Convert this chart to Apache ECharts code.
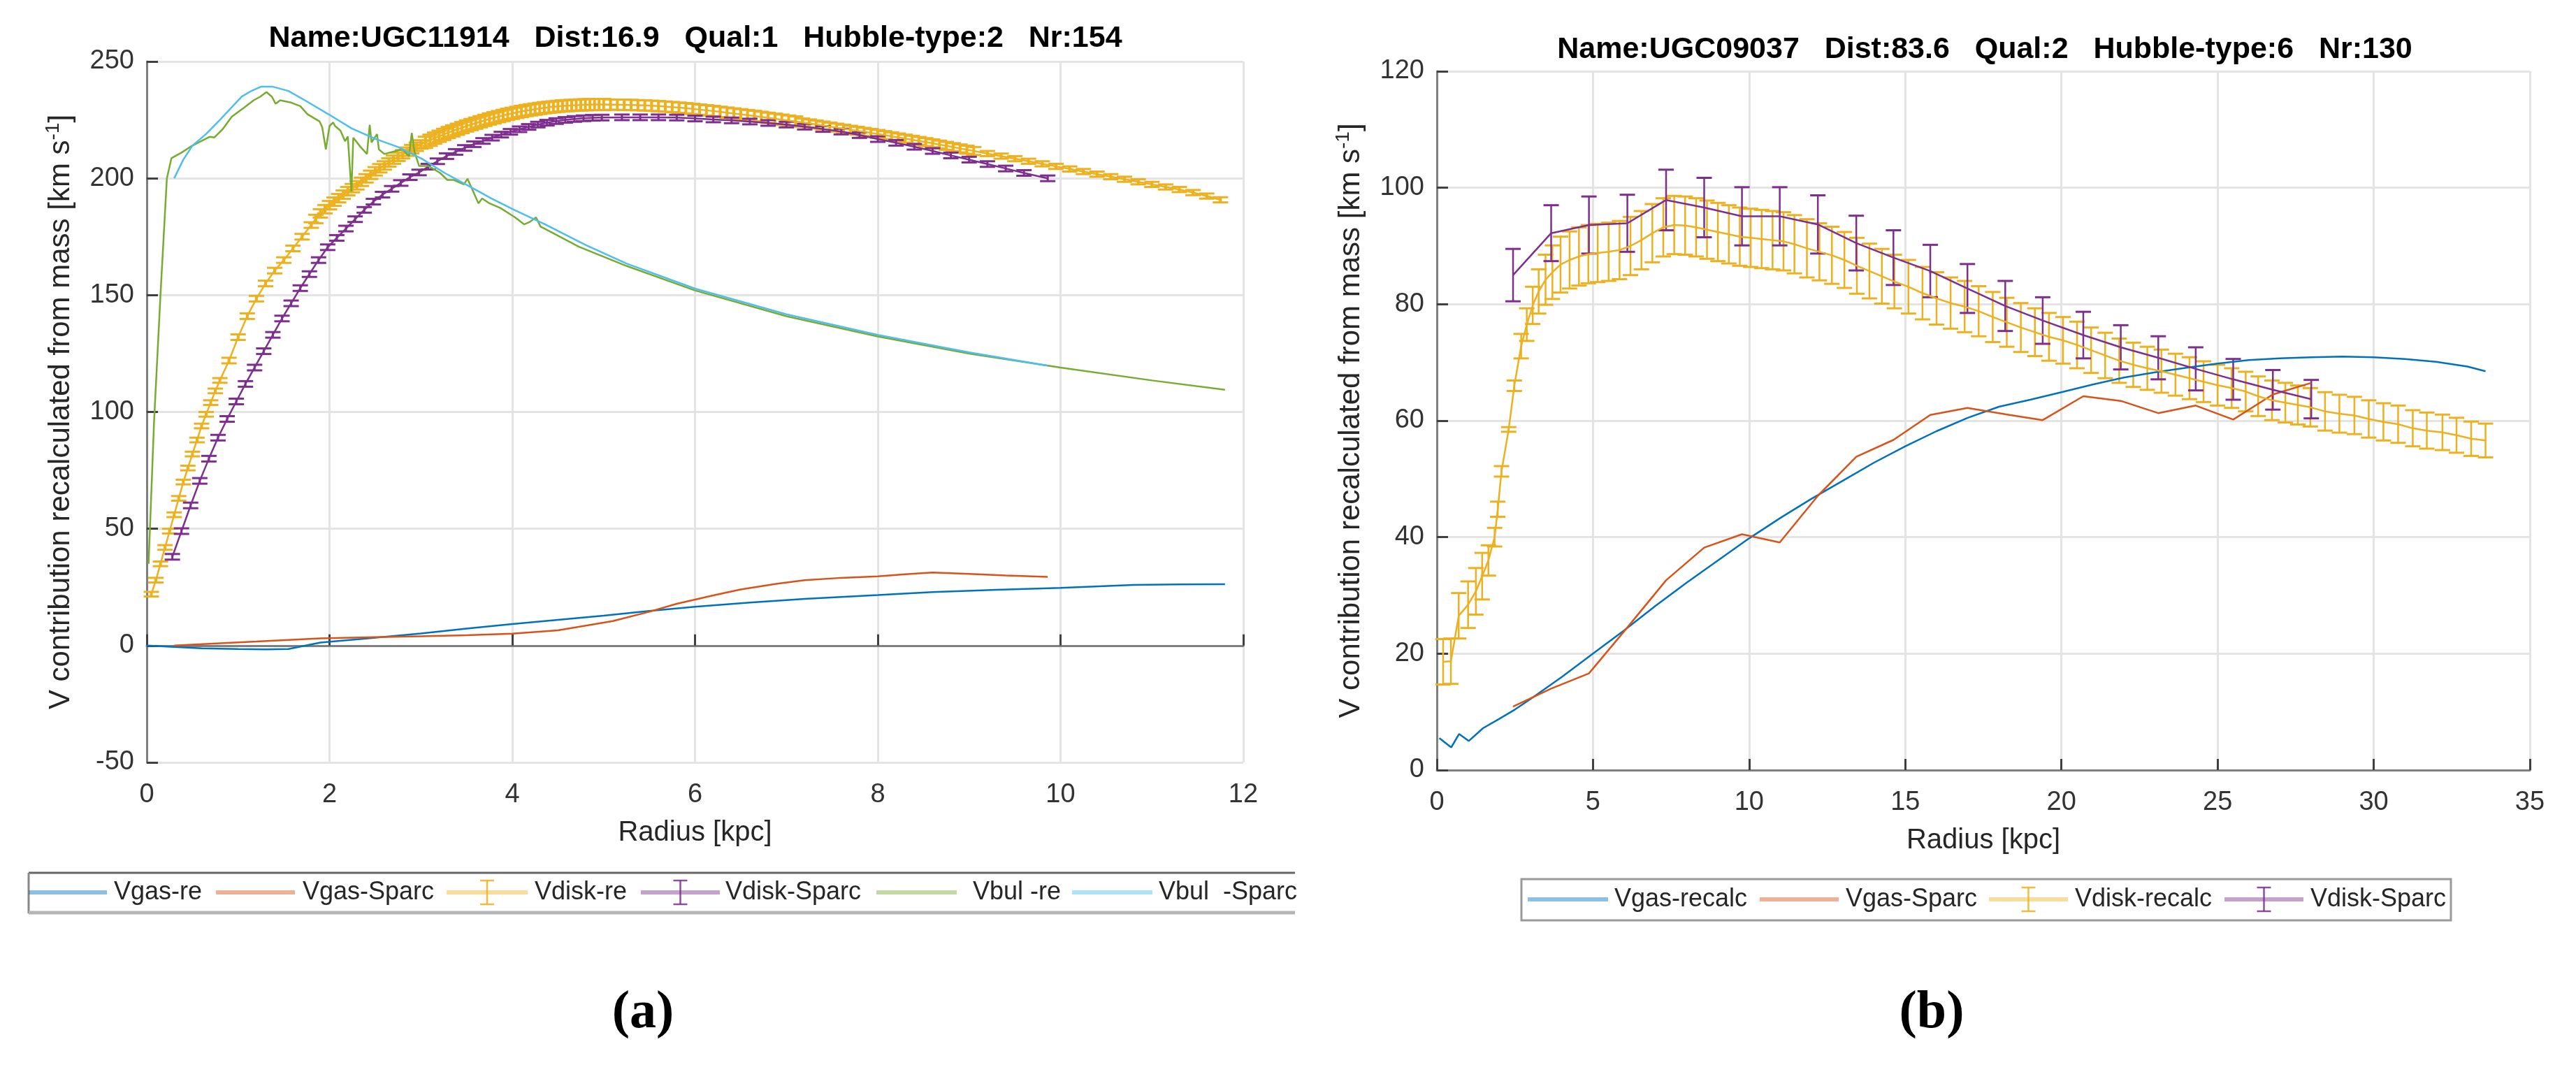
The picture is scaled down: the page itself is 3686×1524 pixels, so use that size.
<!DOCTYPE html>
<html>
<head>
<meta charset="utf-8">
<title>Mass model velocity contributions</title>
<script src="https://cdn.jsdelivr.net/npm/echarts@6.0.0/dist/echarts.min.js"></script>
<style>
  html, body { margin: 0; padding: 0; background: #fff; }
  #chart { width: 3686px; height: 1524px; }
</style>
</head>
<body>
<div id="chart"></div>
<script>
// ---- panel (a): UGC11914 ----
var titleA = 'Name:UGC11914   Dist:16.9   Qual:1   Hubble-type:2   Nr:154';
var namesA = ['Vgas-re', 'Vgas-Sparc', 'Vdisk-re', 'Vdisk-Sparc', 'Vbul -re', 'Vbul  -Sparc'];
var ticksXA = { min: 0, max: 12, step: 2 };
var ticksYA = { min: -50, max: 250, step: 50 };

var gasReR = [0, 0.3, 0.6, 1.0, 1.3, 1.55, 1.9, 2.4, 3.0, 3.5, 4.0, 4.5, 5.0, 5.5, 6.0, 6.6, 7.2, 8.0, 8.6, 9.3, 10.0, 10.8, 11.3, 11.8];
var gasReV = [0, -0.6, -1.2, -1.5, -1.6, -1.5, 1.3, 3.0, 5.2, 7.3, 9.2, 11.0, 12.8, 14.8, 16.6, 18.4, 20.0, 21.6, 22.9, 23.9, 24.7, 26.0, 26.2, 26.3];

var gasSpR = [0.3, 0.8, 1.2, 1.9, 2.5, 3.0, 3.5, 4.0, 4.5, 5.1, 5.5, 5.8, 6.2, 6.5, 6.9, 7.2, 7.6, 8.0, 8.3, 8.6, 9.0, 9.4, 9.86];
var gasSpV = [0, 1.0, 1.75, 3.1, 3.6, 4.0, 4.4, 5.1, 6.5, 10.5, 14.5, 17.9, 21.5, 24.0, 26.5, 28.0, 29.0, 29.6, 30.5, 31.3, 30.7, 30.0, 29.4];

var diskReR = [
  0.05, 0.1, 0.15, 0.2, 0.25, 0.3, 0.35, 0.4, 0.45, 0.5, 0.55, 0.6, 0.65, 0.7, 0.75, 0.8,
  0.9, 1.0, 1.1, 1.2, 1.3, 1.4, 1.5, 1.6, 1.7, 1.8,
  1.85, 1.9, 1.95, 2.0, 2.05, 2.1, 2.15, 2.2, 2.25, 2.3, 2.35, 2.4, 2.45, 2.5, 2.55, 2.6,
  2.65, 2.7, 2.75, 2.8, 2.85, 2.9, 2.95, 3.0,
  3.05, 3.1, 3.15, 3.2, 3.25, 3.3, 3.35, 3.4, 3.45, 3.5, 3.55, 3.6, 3.65, 3.7, 3.75, 3.8, 3.85, 3.9, 3.95, 4.0,
  4.05, 4.1, 4.15, 4.2, 4.25, 4.3, 4.35, 4.4, 4.45, 4.5, 4.55, 4.6, 4.65, 4.7, 4.75, 4.8, 4.85, 4.9, 4.95, 5.0,
  5.075, 5.15, 5.225, 5.3, 5.375, 5.45, 5.525, 5.6, 5.675, 5.75, 5.825, 5.9, 5.975, 6.05,
  6.125, 6.2, 6.275, 6.35, 6.425, 6.5, 6.575, 6.65, 6.725, 6.8, 6.875, 6.95, 7.025, 7.1,
  7.175, 7.25, 7.325, 7.4, 7.475, 7.55, 7.625, 7.7, 7.775, 7.85, 7.925, 8.0, 8.075,
  8.15, 8.225, 8.3, 8.375, 8.45, 8.525, 8.6, 8.675, 8.75, 8.825, 8.9, 8.975, 9.05,
  9.2, 9.35, 9.5, 9.65, 9.8, 9.95, 10.1, 10.25, 10.4, 10.55, 10.7, 10.85, 11.0, 11.15, 11.3, 11.45, 11.6, 11.75];
var diskReV = [
  22, 28, 35, 42, 49, 56, 63, 70, 76, 82, 88, 94, 99, 104, 109, 113.5,
  122, 132, 141, 148.5, 155, 160.5, 165, 170, 175, 180,
  182.6, 185, 186.8, 188.5, 190, 191.5, 193, 194.5, 195.8, 197, 198.5, 200, 201.5, 203, 204.3, 205.5,
  206.8, 208, 209.2, 210.3, 211.4, 212.5, 213.5, 214.5,
  215.4, 216.3, 217.2, 218, 218.8, 219.6, 220.3, 221, 221.7, 222.4, 223, 223.6, 224.2, 224.8, 225.4, 225.9, 226.4, 226.9, 227.4, 227.8,
  228.2, 228.6, 229, 229.3, 229.6, 229.9, 230.2, 230.4, 230.6, 230.8, 231, 231.1, 231.2, 231.3, 231.4, 231.5, 231.55, 231.6, 231.6, 231.6,
  231.55, 231.5, 231.45, 231.4, 231.3, 231.2, 231.05, 230.9, 230.7, 230.5, 230.25, 230.0, 229.7, 229.4,
  229.1, 228.8, 228.45, 228.1, 227.75, 227.4, 227.05, 226.7, 226.3, 225.9, 225.5, 225.1, 224.7, 224.3,
  223.9, 223.5, 223.05, 222.6, 222.15, 221.7, 221.25, 220.8, 220.35, 219.9, 219.45, 219.0, 218.5,
  218.0, 217.5, 217.0, 216.5, 216.0, 215.5, 215.0, 214.45, 213.9, 213.35, 212.8, 212.25, 211.7,
  210.6, 209.5, 208.4, 207.3, 206.2, 205.1, 204.0, 202.9, 201.8, 200.7, 199.6, 198.5, 197.4, 196.3, 195.2, 193.9, 192.4, 190.8];
var diskReE = [
  1, 1, 1, 1, 1, 1, 1, 1, 1, 1, 1, 1, 1, 1, 1, 1,
  1.2, 1.2, 1.2, 1.2, 1.2, 1.2, 1.2, 1.2, 1.2, 1.2,
  1.8, 1.8, 1.8, 1.8, 1.8, 1.8, 1.8, 1.8, 1.8, 1.8, 1.8, 1.8, 1.8, 1.8, 1.8, 1.8,
  1.8, 1.8, 1.8, 1.8, 1.8, 1.8, 1.8, 1.8,
  2.4, 2.4, 2.4, 2.4, 2.4, 2.4, 2.4, 2.4, 2.4, 2.4, 2.4, 2.4, 2.4, 2.4, 2.4, 2.4, 2.4, 2.4, 2.4, 2.4,
  2.4, 2.4, 2.4, 2.4, 2.4, 2.4, 2.4, 2.4, 2.4, 2.4, 2.4, 2.4, 2.4, 2.4, 2.4, 2.4, 2.4, 2.4, 2.4, 2.4,
  2.2, 2.2, 2.2, 2.2, 2.2, 2.2, 2.2, 2.2, 2.2, 2.2, 2.2, 2.2, 2.2, 2.2,
  2.2, 2.2, 2.2, 2.2, 2.2, 2.2, 2.2, 2.2, 2.2, 2.2, 2.2, 2.2, 2.2, 2.2,
  1.7, 1.7, 1.7, 1.7, 1.7, 1.7, 1.7, 1.7, 1.7, 1.7, 1.7, 1.7, 1.7,
  1.7, 1.7, 1.7, 1.7, 1.7, 1.7, 1.7, 1.7, 1.7, 1.7, 1.7, 1.7, 1.7,
  1.1, 1.1, 1.1, 1.1, 1.1, 1.1, 1.1, 1.1, 1.1, 1.1, 1.1, 1.1, 1.1, 1.1, 1.1, 1.1, 1.1, 1.1];

var diskSpR = [0.28, 0.38, 0.48, 0.58, 0.68, 0.78, 0.88, 0.98, 1.08, 1.18, 1.28, 1.38, 1.48, 1.58, 1.68, 1.78, 1.88, 1.98,
  2.08, 2.18, 2.28, 2.38, 2.48, 2.58, 2.68, 2.78, 2.88, 2.98, 3.08, 3.18, 3.28, 3.38, 3.48, 3.58, 3.68, 3.78, 3.88, 3.98,
  4.08, 4.18, 4.28, 4.38, 4.48, 4.58, 4.68, 4.78, 4.88, 4.98,
  5.2, 5.4, 5.6, 5.8, 6.0, 6.2, 6.4, 6.6, 6.8, 7.0, 7.2, 7.4, 7.6, 7.8, 8.0, 8.2, 8.4, 8.6, 8.8, 9.0, 9.2, 9.4, 9.6, 9.86];
var diskSpV = [38, 49, 60, 70.5, 80, 89, 97, 104.5, 112, 119, 126, 133, 140, 146.5, 153, 159, 165, 170.5,
  174.5, 178.5, 182.5, 186.5, 190, 193, 195.5, 198, 200.5, 202.5, 205, 207.3, 209.5, 211.3, 213, 214.6, 216, 217.4, 218.7, 219.9,
  221, 222, 223, 223.8, 224.5, 225, 225.4, 225.7, 225.9, 226,
  226.1, 226.1, 226.1, 226, 225.6, 225.2, 224.8, 224.3, 223.7, 223, 222.1, 221.1, 220, 218.5, 216.8, 215.2, 213.5, 211.7, 209.8, 208, 206.1, 204.2, 202.3, 200];
var diskSpE = [1.2, 1.2, 1.2, 1.2, 1.2, 1.2, 1.2, 1.2, 1.2, 1.2, 1.2, 1.2, 1.2, 1.2, 1.2, 1.2, 1.2, 1.2,
  1.2, 1.2, 1.2, 1.2, 1.2, 1.2, 1.2, 1.2, 1.2, 1.2, 1.2, 1.2, 1.2, 1.2, 1.2, 1.2, 1.2, 1.2, 1.2, 1.2,
  1.2, 1.2, 1.2, 1.2, 1.2, 1.2, 1.2, 1.2, 1.2, 1.2,
  1.2, 1.2, 1.2, 1.2, 1.2, 1.2, 1.2, 1.2, 1.2, 1.2, 1.2, 1.2, 1.2, 1.2, 1.2, 1.2, 1.2, 1.2, 1.2, 1.2, 1.2, 1.2, 1.2, 1.2];

var bulReR = [0.02, 0.08, 0.15, 0.22, 0.27, 0.38, 0.49, 0.6, 0.69, 0.74, 0.83, 0.93, 1.07, 1.17, 1.24, 1.31, 1.37, 1.41, 1.46, 1.58,
  1.68, 1.76, 1.89, 1.92, 1.96, 2.0, 2.04, 2.06, 2.12, 2.17, 2.2, 2.24, 2.26, 2.34, 2.41, 2.44, 2.46, 2.52, 2.54, 2.6,
  2.7, 2.8, 2.87, 2.9, 2.93, 2.98, 3.08, 3.21, 3.29, 3.36, 3.47, 3.51, 3.55, 3.63, 3.67, 3.75, 3.87, 4.03, 4.13, 4.19,
  4.26, 4.31, 4.36, 4.73, 5.25, 6.0, 7.0, 8.0, 9.0, 10.0, 11.0, 11.8];
var bulReV = [35, 96, 150, 200, 208.6, 211, 213.8, 216, 217.8, 217.5, 221, 226.4, 230.4, 233.4, 234.9, 236.9, 234.9, 231.9, 233.4, 232.4,
  230.9, 227.4, 224.4, 221.9, 212.4, 222.4, 223.9, 222.4, 220.4, 215.9, 217.9, 194.4, 217.4, 213.4, 210.4, 222.9, 215.4, 218.9, 212.4, 210.4,
  211.4, 212.4, 209.4, 219.4, 211.4, 205.3, 205.3, 202.3, 199.3, 199.3, 197.4, 199.8, 196.3, 189.3, 191.4, 189.3, 187.3, 183.3, 180.3, 181.3,
  183.3, 179.3, 178.3, 170.7, 162.5, 152, 141, 132.3, 125, 119, 113.5, 109.5];

var bulSpR = [0.3, 0.4, 0.5, 0.65, 0.8, 0.92, 1.04, 1.15, 1.25, 1.38, 1.55, 1.73, 1.99, 2.24, 2.5, 2.75, 3.01, 3.26, 3.52, 3.77,
  4.03, 4.36, 4.8, 5.25, 6.0, 7.0, 8.0, 9.0, 9.86];
var bulSpV = [200, 208, 214, 219, 225, 230, 235, 237.5, 239.2, 239.2, 237.4, 233.4, 227.4, 221.4, 216.9, 213.4, 208.4, 202.3, 196.8, 191.4,
  186.3, 180.3, 171.5, 163.5, 152.8, 141.8, 133, 125.5, 119.8];

// ---- panel (b): UGC09037 ----
var titleB = 'Name:UGC09037   Dist:83.6   Qual:2   Hubble-type:6   Nr:130';
var namesB = ['Vgas-recalc', 'Vgas-Sparc', 'Vdisk-recalc', 'Vdisk-Sparc'];
var ticksXB = { min: 0, max: 35, step: 5 };
var ticksYB = { min: 0, max: 120, step: 20 };

var gasRecR = [0.08, 0.46, 0.71, 1.02, 1.48, 2.0, 2.5, 3.0, 4.0, 5.0, 6.0, 7.0, 8.0, 9.0, 10.0, 11.0, 12.0, 13.0, 14.0, 15.0,
  16.0, 17.0, 18.0, 19.0, 20.0, 21.0, 22.0, 23.0, 24.0, 25.0, 26.0, 27.0, 28.0, 29.0, 30.0, 31.0, 32.0, 33.0, 33.58];
var gasRecV = [5.5, 3.9, 6.2, 5.0, 7.2, 8.8, 10.4, 12.2, 16.0, 20.0, 24.0, 28.2, 32.2, 36.0, 39.8, 43.3, 46.6, 49.7, 52.8, 55.6,
  58.2, 60.5, 62.4, 63.6, 64.9, 66.2, 67.4, 68.3, 69.1, 69.8, 70.4, 70.7, 70.9, 71.0, 70.9, 70.6, 70.1, 69.3, 68.5];

var sparcR = [2.44, 3.66, 4.87, 6.1, 7.34, 8.56, 9.77, 10.98, 12.2, 13.43, 14.62, 15.8, 16.99, 18.2, 19.4, 20.7, 21.9, 23.1, 24.3, 25.5, 26.77, 28.0];
var gasSpBV = [10.9, 14.0, 16.6, 24.5, 32.6, 38.2, 40.5, 39.1, 47.1, 53.8, 56.7, 61.0, 62.2, 61.1, 60.1, 64.2, 63.4, 61.3, 62.6, 60.2, 64.5, 66.5];
var diskSpBV = [85.0, 92.2, 93.6, 93.9, 97.9, 96.6, 95.1, 95.1, 93.7, 90.5, 88.0, 85.7, 82.7, 79.7, 77.2, 74.7, 72.6, 70.8, 68.9, 67.1, 65.3, 63.7];
var diskSpBE = [4.5, 4.8, 4.9, 4.9, 5.2, 5.1, 5.0, 5.0, 5.0, 4.7, 4.7, 4.5, 4.2, 4.3, 4.0, 4.0, 3.8, 3.7, 3.7, 3.5, 3.4, 3.3];

var diskRecR = [0.2, 0.45, 0.7, 1.0, 1.25, 1.45, 1.65, 1.85, 1.95, 2.07, 2.3, 2.48, 2.7, 2.88, 3.07, 3.26, 3.48, 3.7, 3.96, 4.25,
  4.55, 4.85, 5.15, 5.5, 5.85, 6.2, 6.55, 6.9, 7.25, 7.6, 7.95, 8.3, 8.65, 9.0, 9.35, 9.7, 10.05, 10.4, 10.75, 11.1,
  11.45, 11.85, 12.25, 12.65, 13.05, 13.45, 13.85, 14.25, 14.65, 15.1, 15.55, 16.0, 16.45, 16.9, 17.35, 17.8, 18.25, 18.7, 19.15, 19.6,
  20.05, 20.5, 20.95, 21.4, 21.85, 22.3, 22.75, 23.2, 23.65, 24.1, 24.55, 25.0, 25.45, 25.9, 26.3, 26.74, 27.17, 27.57, 27.97, 28.44,
  28.9, 29.38, 29.84, 30.31, 30.78, 31.25, 31.7, 32.2, 32.65, 33.12, 33.58];
var diskRecV = [18.6, 18.7, 26.5, 28.4, 30.7, 33.3, 36.0, 40.0, 44.8, 51.3, 58.5, 66.0, 72.8, 76.5, 79.8, 82.2, 84.2, 85.5, 86.8, 87.6,
  88.2, 88.6, 88.8, 89.0, 89.3, 90.0, 91.0, 92.2, 93.2, 93.6, 93.5, 93.2, 92.8, 92.4, 92.0, 91.6, 91.4, 91.2, 91.0, 90.8,
  90.3, 89.6, 89.0, 88.4, 87.6, 86.6, 85.7, 84.8, 83.9, 83.0, 81.9, 81.0, 80.2, 79.6, 78.8, 77.8, 76.9, 76.0, 75.2, 74.4,
  73.8, 73.0, 72.1, 71.2, 70.3, 69.6, 69.0, 68.5, 67.9, 67.3, 66.7, 66.1, 65.6, 65.0, 64.2, 63.5, 63.1, 62.7, 62.3, 61.6,
  61.2, 60.9, 60.3, 59.8, 59.4, 58.7, 58.3, 58.0, 57.5, 56.9, 56.6];
var diskRecE = [3.9, 3.9, 3.9, 4.0, 4.0, 4.0, 2.6, 1.6, 1.3, 0.9, 0.4, 0.9, 2.1, 2.8, 3.2, 3.8, 4.3, 4.6, 4.8, 4.9,
  5.0, 5.0, 5.0, 5.0, 5.0, 5.0, 5.0, 5.0, 5.0, 5.0, 5.0, 5.0, 5.0, 5.0, 5.0, 5.0, 5.0, 5.0, 5.0, 5.0,
  5.0, 5.0, 4.9, 4.9, 4.8, 4.8, 4.7, 4.7, 4.6, 4.6, 4.5, 4.5, 4.4, 4.4, 4.3, 4.3, 4.2, 4.2, 4.1, 4.1,
  4.0, 4.0, 3.9, 3.9, 3.8, 3.8, 3.7, 3.7, 3.6, 3.6, 3.5, 3.5, 3.4, 3.4, 3.4, 3.4, 3.4, 3.35, 3.3, 3.3,
  3.25, 3.2, 3.2, 3.2, 3.2, 3.1, 3.1, 3.05, 3.0, 2.95, 2.9];

// matlab default line colours
var COL = {
  blue: '#0072BD', orange: '#D95319', yellow: '#EDB120',
  purple: '#7E2F8E', green: '#77AC30', cyan: '#4DBEEE'
};
var FONT = '"Liberation Sans", Arial, Helvetica, sans-serif';
var TXT = '#262626';

function pairs(xs, ys) {
  return xs.map(function (x, i) { return [x, ys[i]]; });
}
function ranges(xs, ys, es) {
  return xs.map(function (x, i) { return [x, ys[i] - es[i], ys[i] + es[i]]; });
}

// vertical error bar with caps, drawn through the axis scales
function errorBar(color, barW) {
  return function (params, api) {
    var x = api.value(0);
    var lo = api.coord([x, api.value(1)]);
    var hi = api.coord([x, api.value(2)]);
    var st = { stroke: color, lineWidth: barW };
    var cap = { stroke: color, lineWidth: 3 };
    var w = 11;
    return {
      type: 'group',
      children: [
        { type: 'line', shape: { x1: hi[0], y1: hi[1], x2: lo[0], y2: lo[1] }, style: st },
        { type: 'line', shape: { x1: hi[0] - w, y1: hi[1], x2: hi[0] + w, y2: hi[1] }, style: cap },
        { type: 'line', shape: { x1: lo[0] - w, y1: lo[1], x2: lo[0] + w, y2: lo[1] }, style: cap }
      ]
    };
  };
}

function lineSeries(name, idx, data, color) {
  return {
    name: name, type: 'line', xAxisIndex: idx, yAxisIndex: idx,
    data: data, showSymbol: false, symbol: 'none',
    lineStyle: { color: color, width: 2.5 }, itemStyle: { color: color }
  };
}
function barSeries(name, idx, data, color, barW) {
  return {
    name: name, type: 'custom', xAxisIndex: idx, yAxisIndex: idx,
    data: data, encode: { x: 0, y: [1, 2] },
    renderItem: errorBar(color, barW || 2.5), itemStyle: { color: color }
  };
}

function xAxis(idx, t, labelMargin) {
  return {
    type: 'value', gridIndex: idx, min: t.min, max: t.max, interval: t.step,
    name: 'Radius [kpc]', nameLocation: 'middle', nameGap: 81,
    nameTextStyle: { fontSize: 40, color: TXT, fontFamily: FONT },
    axisLine: { show: true, lineStyle: { color: '#7f7f7f', width: 3 } },
    axisTick: { show: true, inside: true, length: 16, lineStyle: { color: '#404040', width: 3 } },
    axisLabel: { fontSize: 38, color: '#333', fontFamily: FONT, margin: labelMargin },
    splitLine: { show: true, lineStyle: { color: '#e4e4e4', width: 3 } }
  };
}
function yAxis(idx, t) {
  return {
    type: 'value', gridIndex: idx, min: t.min, max: t.max, interval: t.step,
    name: '{n|V contribution recalculated from mass [km s}{s|-1}{n|]}',
    nameLocation: 'middle', nameGap: 98,
    nameTextStyle: {
      fontSize: 42, color: TXT, fontFamily: FONT,
      rich: {
        n: { fontSize: 42, color: TXT, fontFamily: FONT, lineHeight: 50 },
        s: { fontSize: 28, color: TXT, fontFamily: FONT, lineHeight: 28, verticalAlign: 'top' }
      }
    },
    axisLine: { show: true, onZero: false, lineStyle: { color: '#7f7f7f', width: 3 } },
    axisTick: { show: true, inside: true, length: 16, lineStyle: { color: '#404040', width: 3 } },
    axisLabel: { fontSize: 38, color: '#333', fontFamily: FONT, margin: 18 },
    splitLine: { show: true, lineStyle: { color: '#e4e4e4', width: 3 } }
  };
}

// legend drawn as graphic elements (box is clipped in the original figure)
function legendItems(y, items) {
  var out = [];
  items.forEach(function (it) {
    out.push({ type: 'line', shape: { x1: it.x0, y1: y, x2: it.x1, y2: y },
      style: { stroke: it.color, lineWidth: 6, opacity: 0.45 } });
    if (it.bar) {
      var cx = (it.x0 + it.x1) / 2;
      var st = { stroke: it.color, lineWidth: 2.5, opacity: 0.85 };
      out.push({ type: 'line', shape: { x1: cx, y1: y - 17, x2: cx, y2: y + 17 }, style: st });
      out.push({ type: 'line', shape: { x1: cx - 10, y1: y - 17, x2: cx + 10, y2: y - 17 }, style: st });
      out.push({ type: 'line', shape: { x1: cx - 10, y1: y + 17, x2: cx + 10, y2: y + 17 }, style: st });
    }
    out.push({ type: 'text', x: it.tx, y: y,
      style: { text: it.name, font: '36px ' + FONT, fill: TXT, verticalAlign: 'middle', align: 'left' } });
  });
  return out;
}

var legendA = legendItems(1277, [
  { name: namesA[0], color: COL.blue, x0: 41, x1: 153, tx: 163 },
  { name: namesA[1], color: COL.orange, x0: 309, x1: 422, tx: 433 },
  { name: namesA[2], color: COL.yellow, x0: 639, x1: 755, tx: 765, bar: true },
  { name: namesA[3], color: COL.purple, x0: 917, x1: 1030, tx: 1038, bar: true },
  { name: namesA[4], color: COL.green, x0: 1254, x1: 1369, tx: 1392 },
  { name: namesA[5], color: COL.cyan, x0: 1534, x1: 1649, tx: 1658 }
]);
var legendB = legendItems(1287, [
  { name: namesB[0], color: COL.blue, x0: 2186, x1: 2301, tx: 2310 },
  { name: namesB[1], color: COL.orange, x0: 2518, x1: 2631, tx: 2641 },
  { name: namesB[2], color: COL.yellow, x0: 2846, x1: 2959, tx: 2969, bar: true },
  { name: namesB[3], color: COL.purple, x0: 3183, x1: 3296, tx: 3306, bar: true }
]);

var boxA = [
  { type: 'line', shape: { x1: 41, y1: 1249, x2: 1853, y2: 1249 }, style: { stroke: '#666', lineWidth: 3 } },
  { type: 'line', shape: { x1: 41, y1: 1249, x2: 41, y2: 1307 }, style: { stroke: '#888', lineWidth: 3 } },
  { type: 'line', shape: { x1: 41, y1: 1306, x2: 1853, y2: 1306 }, style: { stroke: '#b5b5b5', lineWidth: 5 } }
];
var boxB = [
  { type: 'rect', shape: { x: 2177, y: 1258, width: 1330, height: 59 },
    style: { fill: '#fff', stroke: '#9a9a9a', lineWidth: 3 } }
];

var texts = [
  { type: 'text', x: 995, y: 55, style: { text: titleA, font: 'bold 43px ' + FONT, fill: '#000', align: 'center', verticalAlign: 'middle' } },
  { type: 'text', x: 2840, y: 71, style: { text: titleB, font: 'bold 43px ' + FONT, fill: '#000', align: 'center', verticalAlign: 'middle' } },
  { type: 'text', x: 920, y: 1450, style: { text: '(a)', font: 'bold 76px "Liberation Serif", "Times New Roman", serif', fill: '#000', align: 'center', verticalAlign: 'middle' } },
  { type: 'text', x: 2764, y: 1450, style: { text: '(b)', font: 'bold 76px "Liberation Serif", "Times New Roman", serif', fill: '#000', align: 'center', verticalAlign: 'middle' } }
];

var chart = echarts.init(document.getElementById('chart'), null, { renderer: 'canvas' });

var option = {
  backgroundColor: '#ffffff',
  animation: false,
  grid: [
    { left: 210, top: 88, width: 1569, height: 1003 },
    { left: 2056, top: 102, width: 1564, height: 1000 }
  ],
  xAxis: [xAxis(0, ticksXA, 28), xAxis(1, ticksXB, 28)],
  yAxis: [yAxis(0, ticksYA), yAxis(1, ticksYB)],
  series: [
    lineSeries(namesA[0], 0, pairs(gasReR, gasReV), COL.blue),
    lineSeries(namesA[1], 0, pairs(gasSpR, gasSpV), COL.orange),
    barSeries(namesA[2], 0, ranges(diskReR, diskReV, diskReE), COL.yellow, 4),
    lineSeries(namesA[2], 0, pairs(diskReR, diskReV), COL.yellow),
    barSeries(namesA[3], 0, ranges(diskSpR, diskSpV, diskSpE), COL.purple, 3),
    lineSeries(namesA[3], 0, pairs(diskSpR, diskSpV), COL.purple),
    lineSeries(namesA[4], 0, pairs(bulReR, bulReV), COL.green),
    lineSeries(namesA[5], 0, pairs(bulSpR, bulSpV), COL.cyan),

    lineSeries(namesB[0], 1, pairs(gasRecR, gasRecV), COL.blue),
    lineSeries(namesB[1], 1, pairs(sparcR, gasSpBV), COL.orange),
    barSeries(namesB[2], 1, ranges(diskRecR, diskRecV, diskRecE), COL.yellow),
    lineSeries(namesB[2], 1, pairs(diskRecR, diskRecV), COL.yellow),
    barSeries(namesB[3], 1, ranges(sparcR, diskSpBV, diskSpBE), COL.purple),
    lineSeries(namesB[3], 1, pairs(sparcR, diskSpBV), COL.purple)
  ],
  graphic: { elements: [].concat(boxA, boxB, legendA, legendB, texts) }
};

chart.setOption(option);
</script>
</body>
</html>
